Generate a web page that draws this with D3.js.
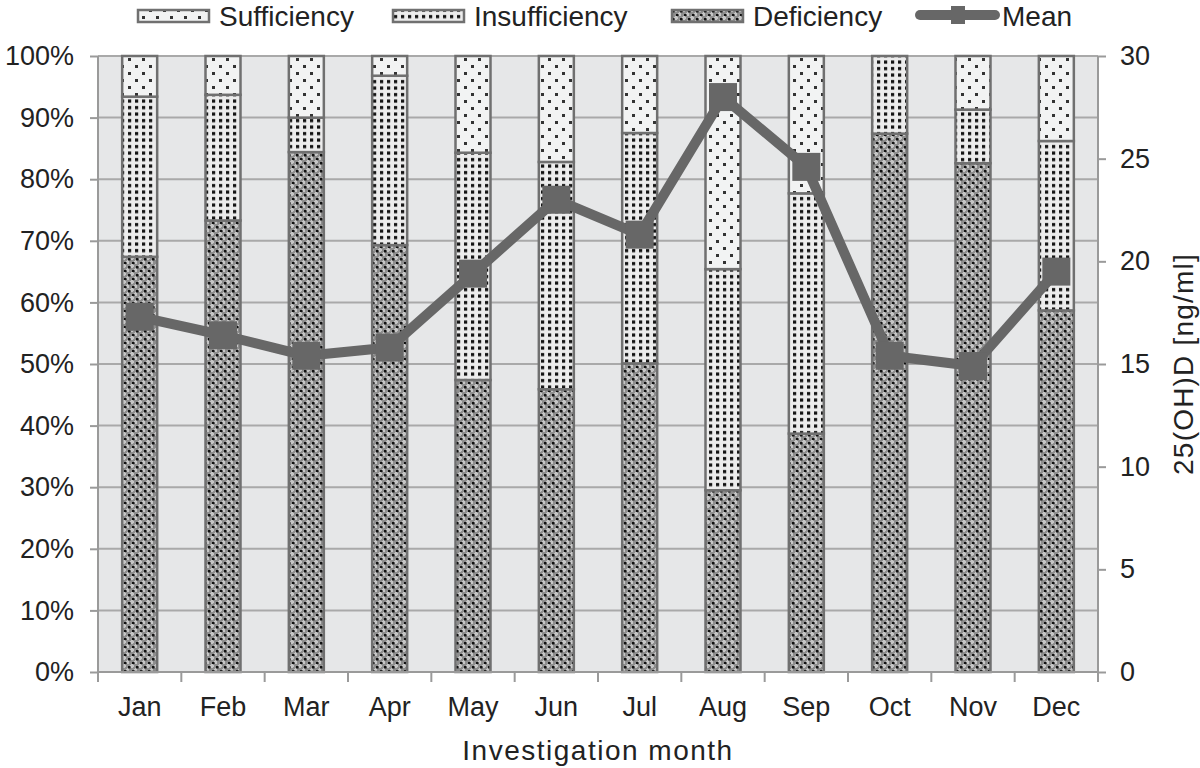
<!DOCTYPE html>
<html><head><meta charset="utf-8">
<script src="https://cdn.jsdelivr.net/npm/d3@7"></script>
<style>body{margin:0;background:#fff}svg{display:block}text{font-family:"Liberation Sans",Arial,sans-serif;fill:#222}</style>
</head><body>
<svg id="c" width="1200" height="768"></svg>
<script>
const months = ["Jan","Feb","Mar","Apr","May","Jun","Jul","Aug","Sep","Oct","Nov","Dec"];
const deficiency   = [67.4, 73.3, 84.4, 69.3, 47.4, 45.9, 50.1, 29.5, 38.7, 87.4, 82.6, 58.7];
const insufficiency= [26.0, 20.4,  5.6, 27.5, 36.9, 36.9, 37.4, 35.9, 39.0, 12.6,  8.7, 27.5];
const sufficiency  = [ 6.6,  6.3, 10.0,  3.2, 15.7, 17.2, 12.5, 34.6, 22.3,  0.0,  8.7, 13.8];
const meanVals     = [17.3, 16.4, 15.4, 15.8, 19.4, 23.0, 21.3, 28.0, 24.6, 15.4, 14.9, 19.5];
const leftTicks  = [0,10,20,30,40,50,60,70,80,90,100];
const rightTicks = [0,5,10,15,20,25,30];
const seriesNames = ["Sufficiency","Insufficiency","Deficiency","Mean"];

const svg = d3.select("#c");
const L = 98, R = 1098, T = 56, B = 672;

// patterns
const defs = svg.append("defs");
const pS = defs.append("pattern").attr("id","pS").attr("patternUnits","userSpaceOnUse").attr("width",14).attr("height",14);
pS.append("rect").attr("width",14).attr("height",14).attr("fill","#f2f3f3");
pS.append("rect").attr("x",2).attr("y",2).attr("width",3).attr("height",3).attr("fill","#333");
pS.append("rect").attr("x",9).attr("y",9).attr("width",3).attr("height",3).attr("fill","#333");
const pI = defs.append("pattern").attr("id","pI").attr("patternUnits","userSpaceOnUse").attr("width",7).attr("height",6.5);
pI.append("rect").attr("width",7).attr("height",6.5).attr("fill","#ececec");
pI.append("rect").attr("x",2).attr("y",2).attr("width",3.2).attr("height",3.2).attr("fill","#111");
const pD = defs.append("pattern").attr("id","pD").attr("patternUnits","userSpaceOnUse").attr("width",8).attr("height",8);
pD.append("rect").attr("width",8).attr("height",8).attr("fill","#8e8e8e");
pD.append("rect").attr("x",3).attr("y",0).attr("width",2).attr("height",4).attr("fill","#c6c6c6");
pD.append("rect").attr("x",2).attr("y",1).attr("width",4).attr("height",2).attr("fill","#c6c6c6");
pD.append("rect").attr("x",7).attr("y",4).attr("width",2).attr("height",4).attr("fill","#c6c6c6");
pD.append("rect").attr("x",-1).attr("y",4).attr("width",2).attr("height",4).attr("fill","#c6c6c6");
pD.append("rect").attr("x",6).attr("y",5).attr("width",2).attr("height",2).attr("fill","#c6c6c6");
pD.append("rect").attr("x",0).attr("y",5).attr("width",1).attr("height",2).attr("fill","#c6c6c6");
pD.append("rect").attr("x",0).attr("y",2).attr("width",2.5).attr("height",2.5).attr("fill","#111");
pD.append("rect").attr("x",4).attr("y",6).attr("width",2.5).attr("height",2.5).attr("fill","#111");

const x = d3.scaleBand().domain(months).range([L,R]).paddingInner(0.58).paddingOuter(0.29);
const xb = d3.scaleBand().domain(months).range([L,R]).padding(0);
const y = d3.scaleLinear().domain([0,100]).range([B,T]);
const y2 = d3.scaleLinear().domain([0,30]).range([B,T]);

// background
svg.append("rect").attr("x",L).attr("y",T).attr("width",R-L).attr("height",B-T).attr("fill","#e6e7e8");
// gridlines
svg.append("g").selectAll("line").data(leftTicks.filter(d=>d>0)).join("line")
  .attr("x1",L).attr("x2",R).attr("y1",d=>y(d)).attr("y2",d=>y(d))
  .attr("stroke","#a9a9a9").attr("stroke-width",2);

// stacked bars
const rows = months.map((m,i)=>({m, Deficiency:deficiency[i], Insufficiency:insufficiency[i], Sufficiency:sufficiency[i]}));
const stack = d3.stack().keys(["Deficiency","Insufficiency","Sufficiency"])(rows);
const fills = {Deficiency:"url(#pD)", Insufficiency:"url(#pI)", Sufficiency:"url(#pS)"};
stack.forEach(layer=>{
  svg.append("g").selectAll("rect").data(layer.filter(d=>d[1]-d[0]>0)).join("rect")
    .attr("x",d=>x(d.data.m)).attr("width",x.bandwidth())
    .attr("y",d=>y(d[1])).attr("height",d=>y(d[0])-y(d[1]))
    .attr("fill",fills[layer.key]).attr("stroke","#707070").attr("stroke-width",2.5);
});

// axes
const axL = svg.append("g").attr("transform",`translate(${L},0)`)
  .call(d3.axisLeft(y).tickValues(leftTicks).tickFormat(d=>d+"%").tickSize(8).tickPadding(16));
const axR = svg.append("g").attr("transform",`translate(${R},0)`)
  .call(d3.axisRight(y2).tickValues(rightTicks).tickSize(8).tickPadding(14));
const axB = svg.append("g").attr("transform",`translate(0,${B})`)
  .call(d3.axisBottom(x).tickSize(0).tickPadding(25));
[axL,axR,axB].forEach(a=>{
  a.selectAll("path").attr("stroke","#9a9a9a").attr("stroke-width",2);
  a.selectAll("line").attr("stroke","#9a9a9a").attr("stroke-width",2);
  a.selectAll("text").attr("font-size",27).attr("fill","#222").style("font-family","'Liberation Sans',Arial,sans-serif");
});
axL.select("path").attr("d",`M0,${T}V${B}`);
axR.select("path").attr("d",`M0,${T}V${B}`);
axB.select("path").attr("d",`M${L},0H${R}`);
// x boundary ticks
svg.append("g").selectAll("line").data(months.concat(["end"])).join("line")
  .attr("x1",(d,i)=> i<12 ? xb(d) : R).attr("x2",(d,i)=> i<12 ? xb(d) : R)
  .attr("y1",B).attr("y2",B+10).attr("stroke","#9a9a9a").attr("stroke-width",2);

// mean line
const line = d3.line().x((d,i)=>x(months[i])+x.bandwidth()/2).y(d=>y2(d));
svg.append("path").datum(meanVals).attr("d",line).attr("fill","none")
  .attr("stroke","#676767").attr("stroke-width",10).attr("stroke-linejoin","round");
svg.append("g").selectAll("rect").data(meanVals).join("rect")
  .attr("x",(d,i)=>x(months[i])+x.bandwidth()/2-14).attr("y",d=>y2(d)-14)
  .attr("width",28).attr("height",28).attr("fill","#676767");

// axis titles
svg.append("text").attr("x",(L+R)/2).attr("y",760).attr("text-anchor","middle")
  .attr("font-size",28).attr("letter-spacing",1.5).text("Investigation month");
svg.append("text").attr("transform",`translate(1193,${(T+B)/2}) rotate(-90)`).attr("text-anchor","middle")
  .attr("font-size",28).attr("letter-spacing",1.2).text("25(OH)D [ng/ml]");

// legend
const leg = svg.append("g");
const legItems = [
  {name:seriesNames[0], x:138, fill:"url(#pS)"},
  {name:seriesNames[1], x:393, fill:"url(#pI)"},
  {name:seriesNames[2], x:672, fill:"url(#pD)"}
];
legItems.forEach(it=>{
  leg.append("rect").attr("x",it.x).attr("y",10).attr("width",71).attr("height",12)
    .attr("fill",it.fill).attr("stroke","#707070").attr("stroke-width",2.5);
  leg.append("text").attr("x",it.x+81).attr("y",26).attr("font-size",28).text(it.name);
});
leg.append("line").attr("x1",920).attr("x2",995).attr("y1",15).attr("y2",15)
  .attr("stroke","#676767").attr("stroke-width",10).attr("stroke-linecap","round");
leg.append("rect").attr("x",951).attr("y",6).attr("width",14).attr("height",18).attr("fill","#676767");
leg.append("text").attr("x",1002).attr("y",26).attr("font-size",28).text(seriesNames[3]);
</script>
</body></html>
